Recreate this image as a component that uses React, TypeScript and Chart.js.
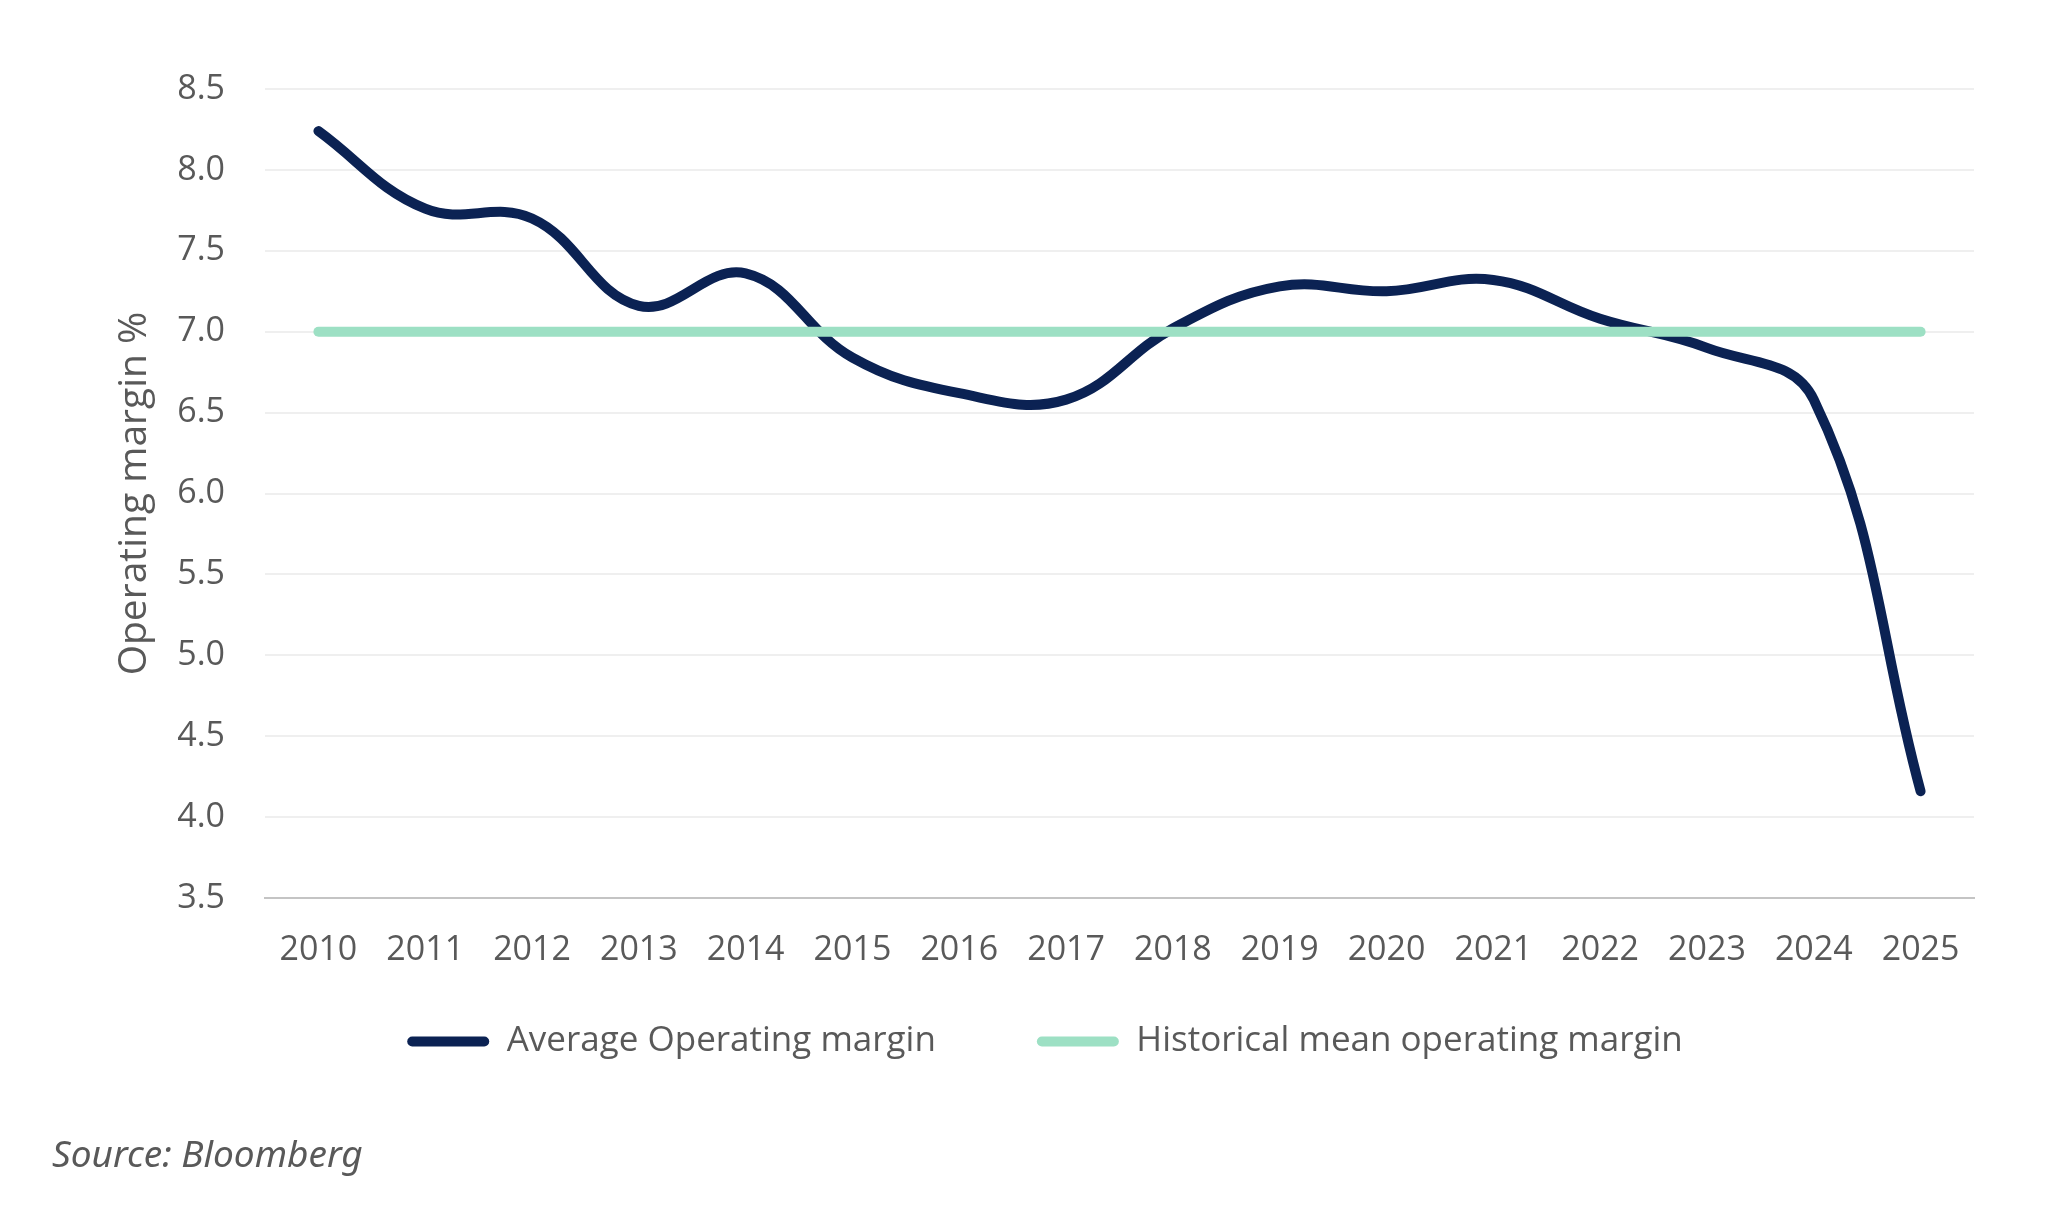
import React, { useEffect, useRef } from "react";
import Chart, { Plugin } from "chart.js/auto";

// Chart data
const years = [
  "2010", "2011", "2012", "2013", "2014", "2015", "2016", "2017",
  "2018", "2019", "2020", "2021", "2022", "2023", "2024", "2025",
];
const avgOperatingMargin = [
  8.24, 7.76, 7.7, 7.16, 7.36, 6.84, 6.62, 6.58,
  7.02, 7.28, 7.25, 7.32, 7.08, 6.9, 6.58, 4.16,
];
const historicalMean = [
  7.0, 7.0, 7.0, 7.0, 7.0, 7.0, 7.0, 7.0,
  7.0, 7.0, 7.0, 7.0, 7.0, 7.0, 7.0, 7.0,
];
const seriesNames = ["Average Operating margin", "Historical mean operating margin"];
const yAxisTitle = "Operating margin %";
const sourceNote = "Source: Bloomberg";

const NAVY = "#0B2253";
const MINT = "#9DE0C4";
const TEXT = "#595959";

// nudge the legend so it sits where the original one does
const legendOffset: Plugin<"line"> = {
  id: "legendOffset",
  afterLayout(chart) {
    const legend = chart.legend;
    if (!legend) return;
    legend.left += 58;
    legend.right += 58;
    legend.top -= 51;
    legend.bottom -= 51;
  },
};

const OperatingMarginChart: React.FC = () => {
  const chartRef = useRef<HTMLCanvasElement>(null);
  const chartInstanceRef = useRef<Chart<"line"> | null>(null);

  useEffect(() => {
    if (!chartRef.current) return;
    const ctx = chartRef.current.getContext("2d");
    if (!ctx) return;

    if (chartInstanceRef.current) {
      chartInstanceRef.current.destroy();
    }

    Chart.defaults.font.family = "'Open Sans', sans-serif";
    Chart.defaults.color = TEXT;

    chartInstanceRef.current = new Chart(ctx, {
      type: "line",
      data: {
        labels: years,
        datasets: [
          {
            label: seriesNames[0],
            data: avgOperatingMargin,
            borderColor: NAVY,
            backgroundColor: NAVY,
            borderWidth: 10,
            borderCapStyle: "round",
            borderJoinStyle: "round",
            pointRadius: 0,
            pointHoverRadius: 0,
            tension: 0.4,
            order: 2,
          },
          {
            label: seriesNames[1],
            data: historicalMean,
            borderColor: MINT,
            backgroundColor: MINT,
            borderWidth: 10,
            borderCapStyle: "round",
            pointRadius: 0,
            pointHoverRadius: 0,
            tension: 0,
            order: 1,
          },
        ],
      },
      options: {
        responsive: false,
        maintainAspectRatio: false,
        animation: false,
        layout: {
          padding: { top: 89, left: 0, right: 82, bottom: 90 },
        },
        scales: {
          x: {
            offset: true,
            grid: { display: false, drawTicks: false },
            border: { display: true, color: "#C4C4C4", width: 2 },
            ticks: {
              padding: 32,
              maxRotation: 0,
              autoSkip: false,
              color: TEXT,
              font: { size: 34 },
            },
            afterFit: (scale) => {
              scale.height = 76;
            },
          },
          y: {
            min: 3.5,
            max: 8.5,
            border: { display: false },
            grid: { color: "#EFEFEF", lineWidth: 2, drawTicks: false },
            ticks: {
              stepSize: 0.5,
              padding: 40,
              color: TEXT,
              font: { size: 34 },
              callback: (value) => Number(value).toFixed(1),
            },
            title: {
              display: true,
              text: yAxisTitle,
              color: TEXT,
              font: { size: 39 },
              padding: { top: 111, bottom: 0 },
            },
            afterFit: (scale) => {
              scale.width = 265;
            },
          },
        },
        plugins: {
          legend: {
            position: "bottom",
            labels: {
              boxWidth: 82,
              boxHeight: 10,
              padding: 101,
              color: TEXT,
              font: { size: 35 },
              useBorderRadius: true,
              borderRadius: 5,
              sort: (a, b) => (a.datasetIndex ?? 0) - (b.datasetIndex ?? 0),
              generateLabels: (chart) =>
                Chart.defaults.plugins.legend.labels
                  .generateLabels(chart)
                  .map((item) => ({ ...item, lineWidth: 0, borderRadius: 5 })),
            },
          },
          tooltip: { enabled: false },
        },
      },
      plugins: [legendOffset],
    });

    return () => {
      if (chartInstanceRef.current) {
        chartInstanceRef.current.destroy();
        chartInstanceRef.current = null;
      }
    };
  }, []);

  return (
    <div
      style={{
        position: "absolute",
        left: 0,
        top: 0,
        width: 2056,
        height: 1210,
        background: "#ffffff",
      }}
    >
      <canvas ref={chartRef} width={2056} height={1210} />
      <div
        style={{
          position: "absolute",
          left: 52,
          top: 1135,
          fontFamily: "'Noto Sans', sans-serif",
          fontStyle: "italic",
          fontSize: 37,
          lineHeight: "36px",
          color: TEXT,
          whiteSpace: "nowrap",
        }}
      >
        {sourceNote}
      </div>
    </div>
  );
};

export default function App() {
  return <OperatingMarginChart />;
}
